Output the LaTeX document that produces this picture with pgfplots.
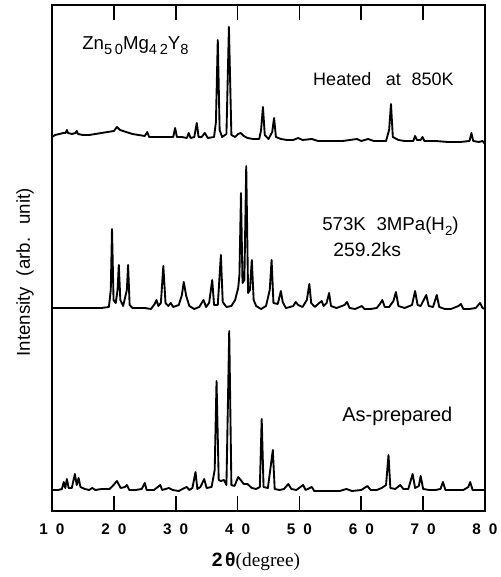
\documentclass[border=0pt]{standalone}
\usepackage{fontspec}
\setmainfont{Liberation Sans}
\newfontfamily\serif{Liberation Serif}
\usepackage{pgfplots}
\usepackage{pgfplotstable}
\pgfplotsset{compat=1.18}

% py = pixel row of the trace in the scan (plotted as -py)
\pgfplotstableread{
x py
10.0 137
10.5 135
11.2 134
11.8 133
12.2 133
12.4 130
12.6 133
13.2 134
13.8 133
14.0 131
14.2 134
15.0 135
16.0 135
17.0 134
18.0 133
19.0 132
20.0 131
20.5 127
21.0 130
22.0 132
23.0 134
24.0 135
25.0 136
25.4 132
25.7 137
27.0 137
28.5 137
29.6 137
29.9 128
30.2 137
31.0 137
31.8 138
32.1 133
32.4 138
33.0 137
33.4 123
33.7 137
34.2 137
34.7 133
35.2 138
36.2 137
36.5 122
36.8 40
37.1 130
37.5 137
38.2 134
38.6 27
39.0 135
39.6 137
40.1 134
40.5 133
41.0 136
41.6 138
42.5 139
43.5 139
43.8 130
44.1 107
44.4 135
45.0 139
45.6 132
45.9 118
46.2 137
47.0 139
48.0 140
49.0 140
49.8 138
50.5 140
52.0 139
53.0 141
55.0 141
57.0 141
59.3 139
60.0 141
61.1 139
62.0 141
64.0 141
64.5 130
64.8 104
65.1 137
66.0 140
67.0 141
68.4 141
68.7 136
69.0 140
69.6 140
69.9 137
70.2 141
72.0 141
74.0 142
76.0 142
77.5 141
77.8 133
78.1 141
79.0 142
79.6 141
80.0 144
}\heated

\pgfplotstableread{
x py
10.0 308
12.0 308
14.0 308
16.0 308
18.0 308
19.2 307
19.5 290
19.7 229
19.95 300
20.3 303
20.6 290
20.8 265
21.05 300
21.5 306
22.1 290
22.3 265
22.55 305
23.0 308
24.0 308
25.0 308
26.0 309
26.6 304
26.9 300
27.2 306
27.6 303
28.0 266
28.35 303
28.8 306
29.2 303
29.6 307
30.5 305
31.0 295
31.3 282
31.7 296
32.2 306
33.0 309
33.8 307
34.5 300
34.9 307
35.4 303
35.9 280
36.2 305
36.8 305
37.3 255
37.6 302
38.2 307
39.0 306
39.6 300
40.1 288
40.3 275
40.55 193
40.8 283
41.1 280
41.4 166
41.7 293
42.0 290
42.3 260
42.6 300
43.0 306
43.8 309
44.6 306
45.2 290
45.5 260
45.8 303
46.5 304
47.0 291
47.3 302
47.8 308
48.5 307
49.0 306
49.4 302
49.8 305
50.5 307
51.2 300
51.6 284
51.9 303
52.5 307
53.2 303
53.6 301
53.9 306
54.4 303
54.8 293
55.1 306
56.0 308
57.3 305
57.7 302
58.1 308
59.0 309
60.1 306
60.5 309
61.5 309
62.5 308
63.0 304
63.4 300
63.8 307
64.5 307
65.2 301
65.6 292
66.0 306
67.0 308
68.2 305
68.7 291
69.1 305
69.6 306
70.5 295
70.9 306
71.6 307
72.2 295
72.6 307
73.5 309
74.5 309
75.7 306
76.1 304
76.5 309
77.5 309
78.5 308
79.2 303
79.6 308
80.0 309
}\hydrided

\pgfplotstableread{
x py
10.0 490
11.0 490
11.6 489
11.9 482
12.15 488
12.4 479
12.7 488
13.2 488
13.7 474
14.0 485
14.3 478
14.6 487
15.3 489
16.0 490
16.5 488
17.0 490
18.0 489
18.5 489
19.3 489
19.8 486
20.5 481
21.1 488
21.8 487
22.1 485
22.5 490
23.5 490
24.5 489
25.0 483
25.3 490
26.5 490
27.5 485
27.8 490
28.9 488
29.5 490
30.5 491
31.4 488
31.8 487
32.2 490
32.7 488
33.2 472
33.5 489
34.0 487
34.6 479
35.0 488
35.8 487
36.3 470
36.6 381
36.95 480
37.3 481
37.8 480
38.2 485
38.65 331
39.0 485
39.5 486
40.1 477
40.5 480
41.0 484
41.6 484
42.3 488
43.0 489
43.6 487
43.9 419
44.2 487
44.9 488
45.7 450
46.0 489
46.8 490
47.5 489
48.2 484
48.7 489
49.5 490
50.6 485
51.0 490
52.0 487
52.4 491
53.5 491
55.0 491
56.5 491
57.6 489
58.5 491
60.0 490
61.0 486
61.5 490
62.5 490
63.3 488
64.0 485
64.4 455
64.7 488
65.5 489
66.3 485
66.8 489
67.6 489
68.3 474
68.7 488
69.3 486
69.6 476
70.0 489
71.0 490
72.0 490
72.8 489
73.2 482
73.6 490
74.5 490
76.5 490
77.3 487
77.6 482
78.0 490
79.0 490
80.0 490
}\asprepared

\begin{document}
\begin{tikzpicture}
\useasboundingbox (-39pt,-49.5pt) rectangle (336pt,383.25pt);
\begin{axis}[
    at={(0pt,0pt)}, anchor=south west,
    scale only axis,
    width=324.75pt, height=379.5pt,
    xmin=10, xmax=80,
    ymin=-511, ymax=-5,
    axis on top,
    axis line style={line width=1.3pt, black},
    xtick={10,20,...,80},
    xticklabels={1\hspace{6pt}0,2\hspace{6pt}0,3\hspace{6pt}0,4\hspace{6pt}0,
                 5\hspace{6pt}0,6\hspace{6pt}0,7\hspace{6pt}0,8\hspace{6pt}0},
    xticklabel style={font=\fontsize{11.5}{13}\selectfont\bfseries, yshift=-6pt},
    tick align=inside,
    major tick length=11pt,
    every tick/.append style={line width=1.3pt, black},
    ytick=\empty,
    xlabel={{\bfseries 2\hspace{2pt}θ}{\serif(degree)}},
    xlabel style={font=\fontsize{14.5}{16}\selectfont, at={(axis description cs:0.471,-0.1)}, anchor=center},
    ylabel={Intensity\hspace{8pt}(arb.\hspace{10pt}unit)},
    ylabel style={font=\fontsize{14}{16}\selectfont, at={(axis description cs:-0.062,0.472)}, anchor=center},
]
\addplot[black, line width=1.4pt, line join=round] table[x=x, y expr=-\thisrow{py}] {\heated};
\addplot[black, line width=1.4pt, line join=round] table[x=x, y expr=-\thisrow{py}] {\hydrided};
\addplot[black, line width=1.4pt, line join=round] table[x=x, y expr=-\thisrow{py}] {\asprepared};

% frame and inward ticks, drawn explicitly as well
\draw[line width=1.3pt, black] (rel axis cs:0,0) rectangle (rel axis cs:1,1);
\pgfplotsinvokeforeach{20,30,40,50,60,70}{
  \draw[line width=1.3pt, black] (axis cs:#1,-511) -- ++(0pt,11pt);
  \draw[line width=1.3pt, black] (axis cs:#1,-5) -- ++(0pt,-11pt);
}

\node[anchor=base west, font=\fontsize{14}{16}\selectfont, inner sep=0pt] at (axis cs:14.85,-50)
  {Zn\raisebox{-0.45ex}{\fontsize{11}{13}\selectfont 5\hspace{2pt}0}Mg\raisebox{-0.45ex}{\fontsize{11}{13}\selectfont 4\hspace{2pt}2}Y\raisebox{-0.45ex}{\fontsize{11}{13}\selectfont 8}};
\node[anchor=base west, font=\fontsize{13.5}{16}\selectfont, inner sep=0pt] at (axis cs:52.19,-86)
  {Heated\hspace{11pt}at\hspace{8pt}850K};
\node[anchor=base west, font=\fontsize{14}{16}\selectfont, inner sep=0pt] at (axis cs:53.65,-231)
  {573K\hspace{8pt}3MPa(H\raisebox{-0.45ex}{\fontsize{10}{12}\selectfont 2})};
\node[anchor=base west, font=\fontsize{14.5}{16}\selectfont, inner sep=0pt] at (axis cs:55.43,-257)
  {259.2ks};
\node[anchor=base west, font=\fontsize{15}{17}\selectfont, inner sep=0pt] at (axis cs:56.88,-422)
  {As-prepared};
\end{axis}
\end{tikzpicture}
\end{document}
